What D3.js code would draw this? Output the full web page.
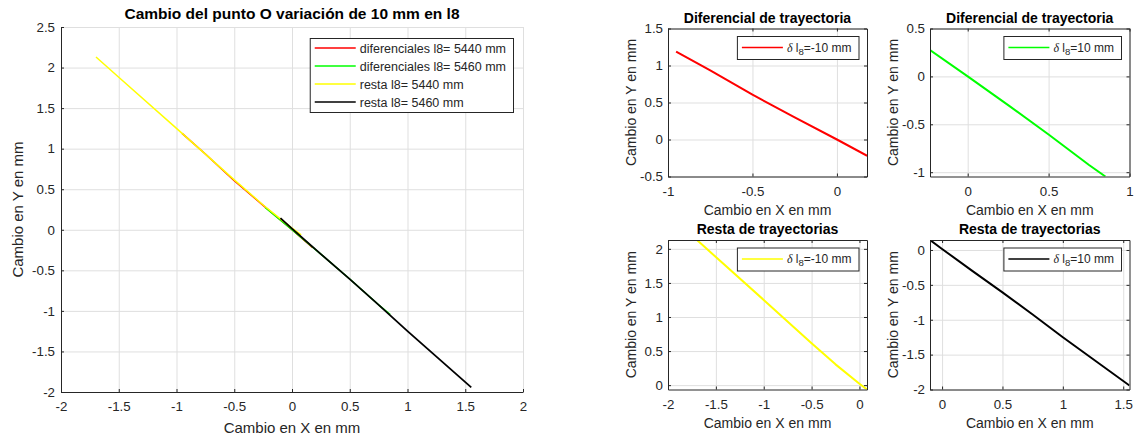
<!DOCTYPE html>
<html>
<head>
<meta charset="utf-8">
<script src="https://cdn.jsdelivr.net/npm/d3@7"></script>
<style>
  body { margin: 0; background: #fff; }
  svg { display: block; }
  text { font-family: "Liberation Sans", Arial, Helvetica, sans-serif; fill: #262626; }
</style>
</head>
<body>
<svg id="fig" width="1135" height="437"></svg>
<script>
// ---------- data ----------
// delta l8 = -10 mm, differential trajectory
const difMinusX = [-0.952, -0.75, -0.5, -0.25, 0, 0.179];
const difMinusY = [1.189, 0.935, 0.605, 0.30, 0, -0.22];
// delta l8 = +10 mm, differential trajectory
const difPlusX = [-0.233, 0, 0.25, 0.5, 0.75, 0.851];
const difPlusY = [0.276, 0, -0.30, -0.607, -0.925, -1.045];
// delta l8 = -10 mm, subtraction of trajectories
const restaMinusX = [-1.697, -1.5, -1, -0.5, -0.25, 0, 0.079];
const restaMinusY = [2.13, 1.88, 1.25, 0.615, 0.305, 0.02, -0.064];
// delta l8 = +10 mm, subtraction of trajectories
const restaPlusX = [-0.1, 0, 0.25, 0.5, 0.75, 1, 1.552];
const restaPlusY = [0.143, 0.015, -0.30, -0.608, -0.925, -1.25, -1.943];

const mainLegend = ["diferenciales l8= 5440 mm", "diferenciales l8= 5460 mm", "resta l8= 5440 mm", "resta l8= 5460 mm"];
const mainXTicks = [-2, -1.5, -1, -0.5, 0, 0.5, 1, 1.5, 2];
const mainYTicks = [-2, -1.5, -1, -0.5, 0, 0.5, 1, 1.5, 2, 2.5];
const mainXLim = [-2, 2];
const mainYLim = [-2, 2.5];

const difMinusXTicks = [-1, -0.5, 0];
const difMinusYTicks = [-0.5, 0, 0.5, 1, 1.5];
const difMinusXLim = [-1, 0.178];
const difMinusYLim = [-0.5, 1.5];

const difPlusXTicks = [0, 0.5, 1];
const difPlusYTicks = [-1, -0.5, 0, 0.5];
const difPlusXLim = [-0.233, 1];
const difPlusYLim = [-1.045, 0.5];

const restaMinusXTicks = [-2, -1.5, -1, -0.5, 0];
const restaMinusYTicks = [0, 0.5, 1, 1.5, 2];
const restaMinusXLim = [-2, 0.079];
const restaMinusYLim = [-0.064, 2.13];

const restaPlusXTicks = [0, 0.5, 1, 1.5];
const restaPlusYTicks = [-2, -1.5, -1, -0.5, 0];
const restaPlusXLim = [-0.1, 1.552];
const restaPlusYLim = [-2, 0.143];

const RED = "#ff0000", GREEN = "#00ff00", YELLOW = "#ffff00", BLACK = "#000000";
const AXIS = "#262626", GRID = "#dfdfdf";

// ---------- drawing ----------
const svg = d3.select("#fig");
svg.append("rect").attr("width", 1135).attr("height", 437).attr("fill", "#fff");
const fmt = d => String(d);
let clipId = 0;

function panel(o) {
  const g = svg.append("g");
  const x = d3.scaleLinear().domain(o.xLim).range([o.left, o.right]);
  const y = d3.scaleLinear().domain(o.yLim).range([o.bottom, o.top]);
  const w = o.right - o.left, h = o.bottom - o.top;

  // grid
  g.append("g").attr("transform", `translate(0,${o.bottom})`)
    .call(d3.axisBottom(x).tickValues(o.xTicks).tickSize(-h).tickFormat(""))
    .call(s => { s.select(".domain").remove(); s.selectAll("line").attr("stroke", GRID).attr("stroke-width", 1); });
  g.append("g").attr("transform", `translate(${o.left},0)`)
    .call(d3.axisLeft(y).tickValues(o.yTicks).tickSize(-w).tickFormat(""))
    .call(s => { s.select(".domain").remove(); s.selectAll("line").attr("stroke", GRID).attr("stroke-width", 1); });

  // series
  const id = "clip" + (clipId++);
  g.append("clipPath").attr("id", id).append("rect")
    .attr("x", o.left).attr("y", o.top).attr("width", w).attr("height", h);
  const line = d3.line().x(d => x(d[0])).y(d => y(d[1]));
  o.series.forEach(s => {
    g.append("path").attr("clip-path", `url(#${id})`)
      .datum(d3.zip(s.xs, s.ys))
      .attr("d", line).attr("fill", "none")
      .attr("stroke", s.color).attr("stroke-width", s.width || o.lineWidth)
      .attr("stroke-linejoin", "round");
  });

  // axes
  const styleAxis = s => {
    s.select(".domain").attr("stroke", AXIS).attr("stroke-width", 1);
    s.selectAll(".tick line").attr("stroke", AXIS);
    s.selectAll(".tick text").attr("fill", AXIS).attr("font-size", o.tickFont)
      .style("font-family", '"Liberation Sans", Arial, Helvetica, sans-serif');
  };
  g.append("g").attr("transform", `translate(0,${o.bottom})`)
    .call(d3.axisBottom(x).tickValues(o.xTicks).tickFormat(fmt).tickSizeInner(-3).tickSizeOuter(0).tickPadding(10))
    .call(styleAxis);
  g.append("g").attr("transform", `translate(${o.left},0)`)
    .call(d3.axisLeft(y).tickValues(o.yTicks).tickFormat(fmt).tickSizeInner(-3).tickSizeOuter(0).tickPadding(o.yPad))
    .call(styleAxis);
  if (o.box) {
    g.append("g").attr("transform", `translate(0,${o.top})`)
      .call(d3.axisTop(x).tickValues(o.xTicks).tickFormat("").tickSizeInner(-3).tickSizeOuter(0))
      .call(styleAxis);
    g.append("g").attr("transform", `translate(${o.right},0)`)
      .call(d3.axisRight(y).tickValues(o.yTicks).tickFormat("").tickSizeInner(-3).tickSizeOuter(0))
      .call(styleAxis);
  }

  // title and labels
  const cx = (o.left + o.right) / 2, cy = (o.top + o.bottom) / 2;
  g.append("text").attr("x", cx).attr("y", o.top - o.titleGap)
    .attr("text-anchor", "middle").attr("font-weight", "bold")
    .attr("font-size", o.titleFont).style("fill", "#000").text(o.title);
  g.append("text").attr("x", cx).attr("y", o.bottom + o.xLabelGap)
    .attr("text-anchor", "middle").attr("font-size", o.labelFont).text("Cambio en X en mm");
  g.append("text").attr("transform", `translate(${o.left - o.yLabelGap},${cy}) rotate(-90)`)
    .attr("text-anchor", "middle").attr("font-size", o.labelFont).text("Cambio en Y en mm");

  // legend
  const lg = g.append("g");
  const box = lg.append("rect").attr("fill", "#fff").attr("stroke", AXIS).attr("stroke-width", 1);
  const rowH = o.legendRow;
  let maxW = 0;
  const rows = o.legend.map((item, i) => {
    const ry = i * rowH;
    const ln = lg.append("line").attr("y1", ry).attr("y2", ry)
      .attr("stroke", item.color).attr("stroke-width", o.legendLine);
    const t = lg.append("text").attr("y", ry + o.legendFont * 0.36).attr("font-size", o.legendFont);
    item.write(t);
    maxW = Math.max(maxW, t.node().getComputedTextLength());
    return { ln, t };
  });
  const sample = 41, pad = 5;
  const bw = pad + sample + 4 + maxW + 7;
  const bh = (o.legend.length - 1) * rowH + 2 * o.legendPadY;
  const bx = o.right - o.legendRight - bw;
  const by = o.top + o.legendTop;
  box.attr("x", bx + 0.5).attr("y", -o.legendPadY + 0.5).attr("width", bw).attr("height", bh);
  lg.attr("transform", `translate(0,${by + o.legendPadY})`);
  rows.forEach(r => {
    r.ln.attr("x1", bx + pad).attr("x2", bx + pad + sample);
    r.t.attr("x", bx + pad + sample + 4);
  });
}

const plain = s => t => t.text(s);
const deltaLabel = s => t => {
  t.append("tspan").attr("font-family", '"Liberation Serif", "DejaVu Serif", serif')
    .attr("font-style", "italic").text("\u03b4");
  t.append("tspan").text(" l");
  t.append("tspan").attr("font-size", "0.8em").attr("dy", "0.3em").text("8");
  t.append("tspan").attr("dy", "-0.24em").text(s);
};

// overview of the four trajectories
panel({
  left: 61, right: 523, top: 27, bottom: 392,
  xLim: mainXLim, yLim: mainYLim, xTicks: mainXTicks, yTicks: mainYTicks,
  box: false, lineWidth: 1.5, legendLine: 1.5, tickFont: 13.3, yPad: 6,
  title: "Cambio del punto O variación de 10 mm en l8", titleFont: 15.5, titleGap: 8,
  labelFont: 15, xLabelGap: 41, yLabelGap: 38,
  series: [
    { xs: difMinusX, ys: difMinusY, color: RED },
    { xs: difPlusX, ys: difPlusY, color: GREEN },
    { xs: restaMinusX, ys: restaMinusY, color: YELLOW },
    { xs: restaPlusX, ys: restaPlusY, color: BLACK, width: 1.8 }
  ],
  legend: [
    { color: RED, write: plain(mainLegend[0]) },
    { color: GREEN, write: plain(mainLegend[1]) },
    { color: YELLOW, write: plain(mainLegend[2]) },
    { color: BLACK, write: plain(mainLegend[3]) }
  ],
  legendFont: 12.5, legendRow: 18, legendPadY: 10, legendRight: 10, legendTop: 11
});

const small = {
  box: true, lineWidth: 2, legendLine: 1.5, tickFont: 13.3, yPad: 5,
  titleFont: 14, titleGap: 6, labelFont: 14, xLabelGap: 38, yLabelGap: 32,
  legendFont: 12, legendRow: 18, legendPadY: 11.5, legendRight: 8.5, legendTop: 7.5
};

panel(Object.assign({}, small, {
  left: 668, right: 867, top: 28.5, bottom: 176.5,
  xLim: difMinusXLim, yLim: difMinusYLim, xTicks: difMinusXTicks, yTicks: difMinusYTicks,
  title: "Diferencial de trayectoria",
  series: [{ xs: difMinusX, ys: difMinusY, color: RED }],
  legend: [{ color: RED, write: deltaLabel("=-10 mm") }]
}));

panel(Object.assign({}, small, {
  left: 930, right: 1129.5, top: 28.5, bottom: 176.5,
  xLim: difPlusXLim, yLim: difPlusYLim, xTicks: difPlusXTicks, yTicks: difPlusYTicks,
  title: "Diferencial de trayectoria",
  series: [{ xs: difPlusX, ys: difPlusY, color: GREEN }],
  legend: [{ color: GREEN, write: deltaLabel("=10 mm") }]
}));

panel(Object.assign({}, small, {
  left: 668, right: 867, top: 240, bottom: 389.5,
  xLim: restaMinusXLim, yLim: restaMinusYLim, xTicks: restaMinusXTicks, yTicks: restaMinusYTicks,
  title: "Resta de trayectorias",
  series: [{ xs: restaMinusX, ys: restaMinusY, color: YELLOW }],
  legend: [{ color: YELLOW, write: deltaLabel("=-10 mm") }]
}));

panel(Object.assign({}, small, {
  left: 930, right: 1129.5, top: 240, bottom: 389.5,
  xLim: restaPlusXLim, yLim: restaPlusYLim, xTicks: restaPlusXTicks, yTicks: restaPlusYTicks,
  title: "Resta de trayectorias",
  series: [{ xs: restaPlusX, ys: restaPlusY, color: BLACK }],
  legend: [{ color: BLACK, write: deltaLabel("=10 mm") }]
}));
</script>
</body>
</html>
